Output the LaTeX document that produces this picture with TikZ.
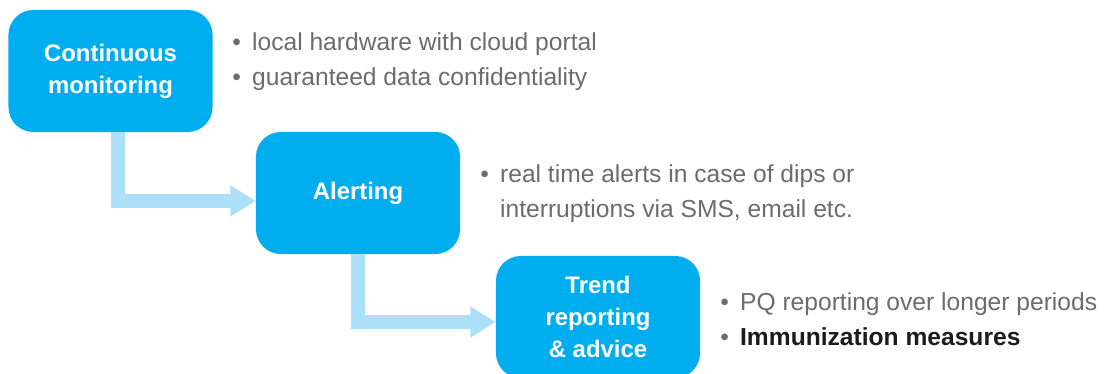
\documentclass[tikz,border=0pt]{standalone}
\usepackage{fontspec}
\setmainfont{Liberation Sans}
\usetikzlibrary{arrows.meta,calc,positioning}
\definecolor{boxcyan}{RGB}{0,174,239}
\definecolor{flowblue}{RGB}{171,224,248}
\definecolor{notegray}{RGB}{108,108,110}
\definecolor{notedark}{RGB}{28,28,30}

\begin{document}
\begin{tikzpicture}[x=0.025cm, y=0.025cm,
    stage/.style={fill=boxcyan, rounded corners=0.62cm, minimum width=5.1cm,
        minimum height=3.05cm, inner sep=0pt, align=center, text=white,
        font=\fontsize{17}{22.8}\selectfont\bfseries},
    note/.style={anchor=west, inner sep=0pt, text=notegray,
        font=\fontsize{17.5}{24.9}\selectfont},
    flow/.style={draw=flowblue, line width=0.37cm, line join=miter,
        -{Triangle[length=0.63cm, width=0.73cm]}}]
    \useasboundingbox (0, 0) rectangle (1104, 374);

    % Stages
    \node[stage] (mon) at (110.5, 303) {Continuous\\monitoring};
    \node[stage] (alert) at (358, 181) {Alerting};
    \node[stage] (trend) at (598, 57) {Trend\\reporting\\\& advice};

    % Arrows
    \draw[flow] ($(mon.south)+(7.5,0)$) |- ($(alert.west)+(0,-8)$);
    \draw[flow] ($(alert.south)+(0,0)$) |- ($(trend.west)+(0,-5)$);

    % Notes
    \node[note] (mon-note) at (232, 313) {%
        \begin{tabular}{@{}l@{\hspace{8pt}}l@{}}
        \textbullet & local hardware with cloud portal\\
        \textbullet & guaranteed data confidentiality
        \end{tabular}};
    \node[note] (alert-note) at (480, 181) {%
        \begin{tabular}{@{}l@{\hspace{8pt}}l@{}}
        \textbullet & real time alerts in case of dips or\\
                    & interruptions via SMS, email etc.
        \end{tabular}};
    \node[note] (trend-note) at (720, 53) {%
        \begin{tabular}{@{}l@{\hspace{8pt}}l@{}}
        \textbullet & PQ reporting over longer periods\\
        \textbullet & \textcolor{notedark}{\bfseries Immunization measures}
        \end{tabular}};

\end{tikzpicture}
\end{document}
